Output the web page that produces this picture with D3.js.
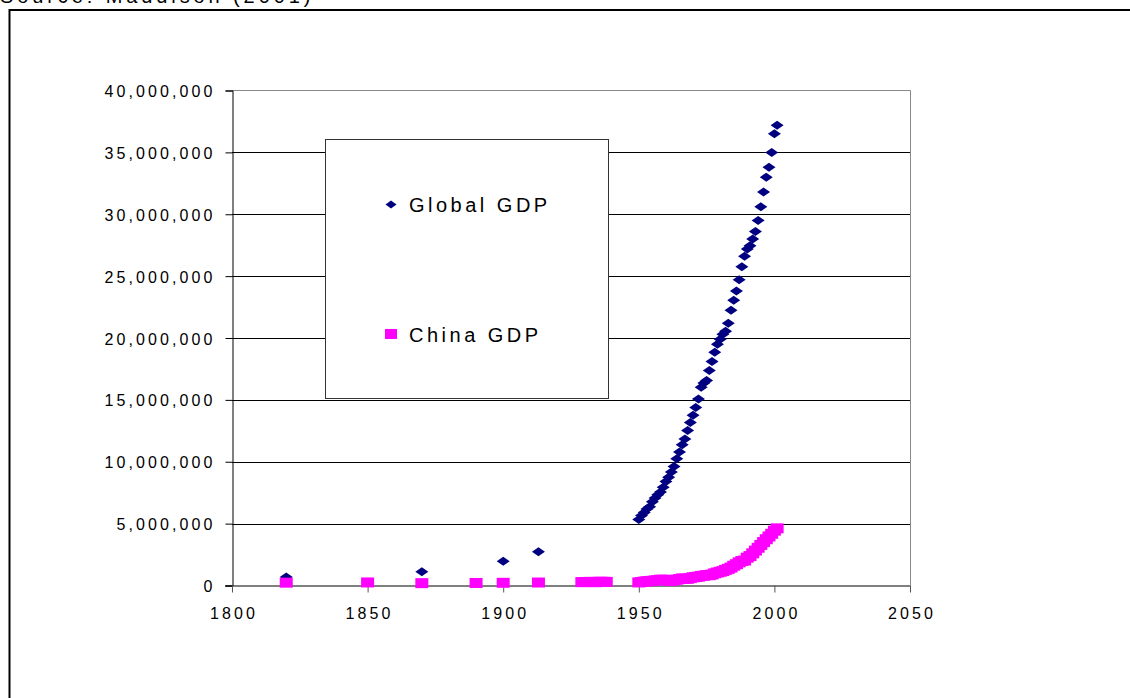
<!DOCTYPE html>
<html>
<head>
<meta charset="utf-8">
<script src="https://cdn.jsdelivr.net/npm/d3@7"></script>
<style>
  html, body { margin: 0; padding: 0; background: #fff; }
  svg { display: block; font-family: "Liberation Sans", Arial, sans-serif; }
</style>
</head>
<body>
<div id="chart"></div>
<script>
// Global GDP (1990 int. $, millions shown as raw numbers)
const globalYears = [1820, 1870, 1900, 1913,
  1950, 1951, 1952, 1953, 1954, 1955, 1956, 1957, 1958, 1959,
  1960, 1961, 1962, 1963, 1964, 1965, 1966, 1967, 1968, 1969,
  1970, 1971, 1972, 1973, 1974, 1975, 1976, 1977, 1978, 1979,
  1980, 1981, 1982, 1983, 1984, 1985, 1986, 1987, 1988, 1989,
  1990, 1991, 1992, 1993, 1994, 1995, 1996, 1997, 1998, 1999,
  2000, 2001];
const globalValues = [694000, 1110000, 1960000, 2730000,
  5340000, 5650000, 5900000, 6190000, 6370000, 6770000, 7070000, 7340000, 7550000, 7940000,
  8400000, 8740000, 9170000, 9620000, 10240000, 10780000, 11380000, 11840000, 12520000, 13180000,
  13760000, 14380000, 15080000, 16020000, 16360000, 16560000, 17380000, 18100000, 18850000, 19490000,
  19900000, 20300000, 20550000, 21200000, 22250000, 23060000, 23800000, 24700000, 25750000, 26600000,
  27200000, 27450000, 28000000, 28600000, 29500000, 30600000, 31800000, 33000000, 33800000, 35000000,
  36500000, 37200000];

const chinaYears = [1820, 1850, 1870, 1890, 1900, 1913,
  1929, 1930, 1931, 1932, 1933, 1934, 1935, 1936, 1937, 1938,
  1950, 1951, 1952, 1953, 1954, 1955, 1956, 1957, 1958, 1959,
  1960, 1961, 1962, 1963, 1964, 1965, 1966, 1967, 1968, 1969,
  1970, 1971, 1972, 1973, 1974, 1975, 1976, 1977, 1978, 1979,
  1980, 1981, 1982, 1983, 1984, 1985, 1986, 1987, 1988, 1989,
  1990, 1991, 1992, 1993, 1994, 1995, 1996, 1997, 1998, 1999,
  2000, 2001];
const chinaValues = [229000, 247000, 190000, 205000, 218000, 241000,
  274000, 278000, 282000, 293000, 289000, 268000, 287000, 303000, 296000, 289000,
  250000, 280000, 315000, 340000, 355000, 378000, 410000, 430000, 470000, 462000,
  458000, 380000, 380000, 418000, 470000, 520000, 570000, 555000, 545000, 595000,
  665000, 690000, 710000, 775000, 790000, 840000, 835000, 890000, 985000, 1050000,
  1110000, 1165000, 1265000, 1345000, 1450000, 1600000, 1720000, 1870000, 1980000, 2020000,
  2250000, 2380000, 2600000, 2820000, 3050000, 3280000, 3510000, 3740000, 3960000, 4180000,
  4430000, 4620000];

const yTicks = [0, 5000000, 10000000, 15000000, 20000000, 25000000, 30000000, 35000000, 40000000];
const xTicks = [1800, 1850, 1900, 1950, 2000, 2050];
const seriesNames = ['Global GDP', 'China GDP'];
const sourceNote = 'Source: Maddison (2001)';

const W = 1130, H = 698;
const plot = { left: 232, right: 910, top: 90.5, bottom: 585.5 };

const svg = d3.select('#chart').append('svg')
  .attr('width', W).attr('height', H)
  .attr('viewBox', `0 0 ${W} ${H}`);

// cut-off heading above the frame
svg.append('text')
  .attr('x', 0).attr('y', 2.5)
  .attr('font-size', 20)
  .attr('letter-spacing', 3.9)
  .attr('fill', '#000')
  .text(sourceNote);

// outer frame (runs off the right/bottom edge)
svg.append('rect')
  .attr('x', 9.5).attr('y', 10)
  .attr('width', W + 20).attr('height', H + 20)
  .attr('fill', 'none').attr('stroke', '#000').attr('stroke-width', 2);

const x = d3.scaleLinear().domain([1800, 2050]).range([plot.left, plot.right]);
const y = d3.scaleLinear().domain([0, 40000000]).range([plot.bottom, plot.top]);

// gridlines
svg.append('g')
  .selectAll('line')
  .data(yTicks.filter(d => d > 0 && d < 40000000))
  .join('line')
  .attr('x1', plot.left).attr('x2', plot.right)
  .attr('y1', d => Math.round(y(d)) + 0.5).attr('y2', d => Math.round(y(d)) + 0.5)
  .attr('stroke', '#000').attr('stroke-width', 1);

// plot border top/right in gray
svg.append('path')
  .attr('d', `M${plot.left},${plot.top}H${plot.right + 0.5}V${plot.bottom}`)
  .attr('fill', 'none').attr('stroke', '#888').attr('stroke-width', 1);

// y axis
const yAxis = svg.append('g')
  .attr('transform', `translate(${plot.left + 0.5},0)`)
  .call(d3.axisLeft(y).tickValues(yTicks).tickFormat(d3.format(',')).tickSizeOuter(0).tickSize(7).tickPadding(13));
yAxis.select('.domain').attr('stroke', '#000');
yAxis.selectAll('.tick line').attr('stroke', '#000');
yAxis.selectAll('.tick text')
  .attr('font-size', 16)
  .attr('letter-spacing', 3.1)
  .attr('fill', '#000')
  .attr('font-family', '"Liberation Sans", Arial, sans-serif')
  .attr('dx', 3.1)
  .attr('dy', 6)
  .attr('y', 0);

// x axis
const xAxis = svg.append('g')
  .attr('transform', `translate(0,${plot.bottom})`)
  .call(d3.axisBottom(x).tickValues(xTicks).tickFormat(d3.format('d')).tickSizeOuter(0).tickSize(7).tickPadding(0));
xAxis.select('.domain').attr('stroke', '#000').attr('d', `M${plot.left - 7},0.5H${plot.right}`);
xAxis.selectAll('.tick line').attr('stroke', '#555');
xAxis.selectAll('.tick text')
  .attr('font-size', 16)
  .attr('letter-spacing', 3.1)
  .attr('fill', '#000')
  .attr('font-family', '"Liberation Sans", Arial, sans-serif')
  .attr('dx', 1.5)
  .attr('dy', 0)
  .attr('y', 33.5);

// markers
const diamond = 'M0,-4.5L6.5,0L0,4.5L-6.5,0Z';
const globalData = globalYears.map((yr, i) => ({ year: yr, value: globalValues[i] }));
const chinaData = chinaYears.map((yr, i) => ({ year: yr, value: chinaValues[i] }));

svg.append('g')
  .selectAll('path')
  .data(globalData)
  .join('path')
  .attr('d', diamond)
  .attr('transform', d => `translate(${x(d.year)},${y(d.value)})`)
  .attr('fill', '#000080');

svg.append('g')
  .selectAll('rect')
  .data(chinaData)
  .join('rect')
  .attr('x', d => x(d.year) - 6.5)
  .attr('y', d => y(d.value) - 5)
  .attr('width', 13).attr('height', 10)
  .attr('fill', '#ff00ff');

// legend
const legend = svg.append('g');
legend.append('rect')
  .attr('x', 325.5).attr('y', 139.5)
  .attr('width', 283).attr('height', 259)
  .attr('fill', '#fff').attr('stroke', '#333').attr('stroke-width', 1);

legend.append('path')
  .attr('d', 'M0,-4L5.5,0L0,4L-5.5,0Z')
  .attr('transform', 'translate(391,204.5)')
  .attr('fill', '#000080');
legend.append('rect')
  .attr('x', 385).attr('y', 329)
  .attr('width', 12).attr('height', 10)
  .attr('fill', '#ff00ff');

legend.selectAll('text')
  .data(seriesNames)
  .join('text')
  .attr('x', 409)
  .attr('y', (d, i) => i === 0 ? 212 : 342)
  .attr('font-size', 20)
  .attr('letter-spacing', 3.5)
  .attr('fill', '#000')
  .text(d => d);
</script>
</body>
</html>
